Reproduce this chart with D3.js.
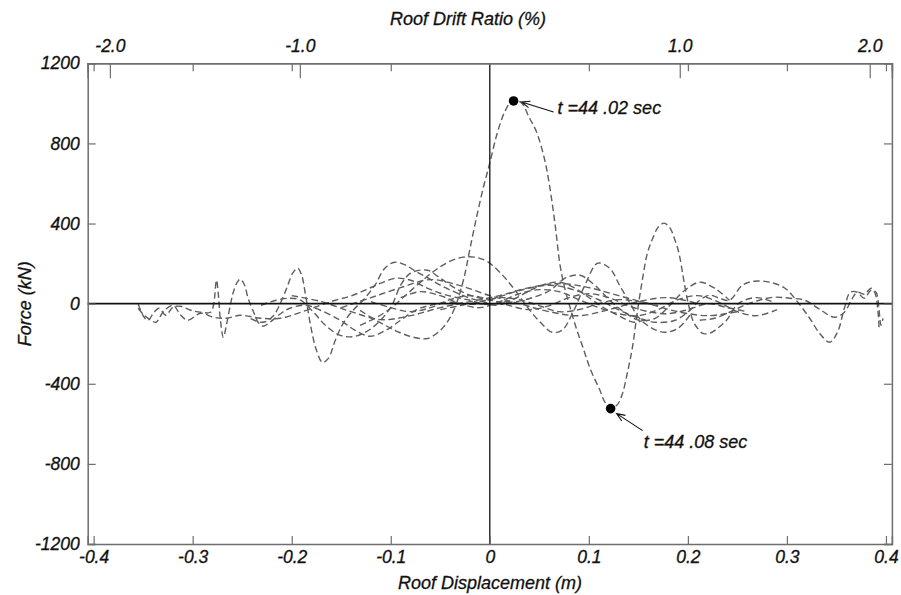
<!DOCTYPE html>
<html>
<head>
<meta charset="utf-8">
<script src="https://cdn.jsdelivr.net/npm/d3@7/dist/d3.min.js"></script>
<style>
  html, body { margin: 0; padding: 0; background: #fff; }
  text { font-family: "Liberation Sans", Arial, sans-serif; font-style: italic; fill: #111; stroke: #111; stroke-width: 0.3px; }
</style>
</head>
<body>
<svg id="chart" width="901" height="595"></svg>
<script>
// ---------------- DATA (roof displacement m, force kN) ----------------
const xTicks = [-0.4, -0.3, -0.2, -0.1, 0, 0.1, 0.2, 0.3, 0.4];
const xTickLabels = ["-0.4", "-0.3", "-0.2", "-0.1", "0", "0.1", "0.2", "0.3", "0.4"];
const yTicks = [-1200, -800, -400, 0, 400, 800, 1200];
const yTickLabels = ["-1200", "-800", "-400", "0", "400", "800", "1200"];
const driftTicks = [-2, -1, 1, 2];
const driftTickLabels = ["-2.0", "-1.0", "1.0", "2.0"];
const metersPerPercentDrift = 0.1918;

const s1 = [[-0.131,-34],[-0.111,-94],[-0.091,-144],[-0.076,-169],[-0.063,-174],[-0.050,-134],[-0.040,-69],[-0.033,10],[-0.026,130],[-0.020,275],[-0.013,440],[-0.006,590],[0.000,702],[0.007,842],[0.015,957],[0.023,1015],[0.032,1002],[0.040,927],[0.047,860],[0.055,727],[0.060,600],[0.066,392],[0.071,190],[0.076,70],[0.081,-18],[0.087,-118],[0.094,-218],[0.102,-333],[0.111,-430],[0.116,-490],[0.122,-524],[0.129,-503],[0.134,-448],[0.139,-343],[0.144,-218],[0.149,-40],[0.154,117],[0.159,250],[0.164,320],[0.170,382],[0.176,402],[0.182,377],[0.187,317],[0.191,252],[0.195,142],[0.199,32],[0.205,-83],[0.209,-118],[0.215,-148],[0.222,-148],[0.230,-123],[0.239,-83],[0.249,-8],[0.257,17],[0.270,30],[0.285,10]];
const s2 = [[-0.2415,-75],[-0.229,-93],[-0.219,-63],[-0.211,7],[-0.204,92],[-0.199,152],[-0.194,177],[-0.190,142],[-0.186,42],[-0.181,-108],[-0.175,-233],[-0.169,-293],[-0.163,-273],[-0.156,-183],[-0.148,-98],[-0.138,-33],[-0.128,17],[-0.116,92],[-0.106,177],[-0.096,207],[-0.085,192],[-0.075,162],[-0.062,127],[-0.050,92],[-0.035,57],[-0.020,27],[-0.005,7],[0.005,-8],[0.015,2]];
const s3 = [[-0.131,-108],[-0.116,-73],[-0.100,-23],[-0.085,42],[-0.070,107],[-0.055,167],[-0.040,212],[-0.027,232],[-0.015,232],[-0.003,212],[0.010,157],[0.024,77],[0.038,-18],[0.051,-93],[0.063,-143],[0.073,-133],[0.084,-43],[0.096,92],[0.109,202],[0.121,177],[0.131,92],[0.141,7],[0.151,-73],[0.164,-123],[0.177,-143],[0.190,-123],[0.202,-58]];
const s4 = [[0.000,17],[0.031,67],[0.061,92],[0.086,67],[0.111,17],[0.131,-33],[0.151,-73],[0.167,-93],[0.187,-83],[0.202,-33],[0.212,17],[0.222,42],[0.232,27],[0.242,17],[0.255,92],[0.267,112],[0.283,107],[0.298,77],[0.311,7],[0.323,-73],[0.333,-148],[0.343,-193],[0.351,-143],[0.358,-23],[0.364,57],[0.371,57],[0.378,27],[0.385,67],[0.390,57],[0.393,-33],[0.395,-108],[0.397,-73]];
const s5 = [[0.212,-83],[0.227,-73],[0.242,-43],[0.257,-8],[0.272,17],[0.287,32],[0.303,27],[0.318,17],[0.333,-28],[0.348,-68],[0.358,-43],[0.365,17],[0.371,57],[0.378,47],[0.385,77],[0.389,52],[0.392,-43],[0.393,-118]];
const s6 = [[-0.355,-3],[-0.349,-68],[-0.345,-83],[-0.339,-43],[-0.334,-23],[-0.327,-58],[-0.320,-18],[-0.312,-13],[-0.302,-33],[-0.292,-43],[-0.282,-43],[-0.279,-8],[-0.276,117],[-0.274,42],[-0.272,-83],[-0.269,-168],[-0.266,-108],[-0.262,-8],[-0.259,57],[-0.255,107],[-0.252,122],[-0.248,97],[-0.244,27],[-0.238,-48],[-0.234,-93],[-0.229,-113],[-0.222,-93],[-0.212,-53],[-0.202,-23],[-0.186,-8],[-0.171,-33],[-0.151,-83],[-0.136,-133],[-0.121,-163],[-0.105,-133],[-0.090,-83],[-0.075,-33],[-0.060,-8],[-0.040,7],[-0.020,-3],[0.000,2]];
const s7 = [[-0.355,-23],[-0.349,-58],[-0.342,-83],[-0.337,-93],[-0.330,-43],[-0.320,-8],[-0.312,-58],[-0.305,-83],[-0.292,-48],[-0.279,-68],[-0.266,-73],[-0.252,-58],[-0.231,-73],[-0.211,-73],[-0.191,-43],[-0.171,-8],[-0.156,17],[-0.141,37],[-0.126,67],[-0.110,102],[-0.095,127],[-0.080,117],[-0.065,82],[-0.050,52],[-0.035,32],[-0.020,17],[-0.005,-3],[0.010,2],[0.026,27],[0.041,67],[0.056,97],[0.071,107],[0.086,77],[0.101,27],[0.116,-23],[0.131,-63],[0.146,-93],[0.160,-73]];
const s8 = [[-0.231,-8],[-0.216,17],[-0.201,27],[-0.191,17],[-0.178,-43],[-0.166,-108],[-0.151,-158],[-0.136,-163],[-0.118,-118],[-0.100,-18],[-0.090,92],[-0.080,152],[-0.063,167],[-0.050,127],[-0.035,77],[-0.020,42],[0.000,17],[0.020,7],[0.041,27],[0.061,67],[0.076,127],[0.091,142],[0.106,92],[0.121,17],[0.136,-43],[0.151,-83],[0.167,-73],[0.182,-8],[0.197,67],[0.212,107],[0.227,77],[0.242,17]];
const s9 = [[-0.12,10],[-0.10,-20],[-0.08,-40],[-0.06,-20],[-0.04,20],[-0.02,40],[0.00,20],[0.02,-10],[0.04,-30],[0.06,-10],[0.08,30],[0.10,50],[0.12,30],[0.14,-10],[0.16,-40],[0.18,-50],[0.20,-30],[0.22,0],[0.24,-20],[0.26,-40]];
const s10 = [[-0.09,30],[-0.07,60],[-0.05,40],[-0.03,0],[-0.01,-20],[0.01,10],[0.03,50],[0.05,70],[0.07,60],[0.09,20],[0.11,-20],[0.13,-50],[0.15,-60],[0.17,-30],[0.19,20],[0.21,40],[0.23,10],[0.25,-40],[0.27,-60],[0.29,-30]];
const s11 = [[-0.05,-30],[-0.03,-10],[-0.01,10],[0.01,30],[0.03,20],[0.05,-10],[0.07,-40],[0.09,-30],[0.11,0],[0.13,20],[0.15,10],[0.17,-10]];
const s12 = [[-0.15,-20],[-0.12,30],[-0.09,80],[-0.06,120],[-0.03,90],[0.00,40],[0.03,0],[0.06,-40],[0.09,-60],[0.12,-30],[0.15,10],[0.18,30],[0.21,0]];
const s13 = [[-0.20,40],[-0.17,10],[-0.14,-40],[-0.11,-80],[-0.08,-60],[-0.05,-20],[-0.02,10],[0.01,40],[0.04,80],[0.07,100],[0.10,80],[0.13,40],[0.16,0],[0.19,-40],[0.22,-60],[0.25,-40]];
const seriesList = [s1, s2, s3, s4, s5, s6, s7, s8, s9, s10, s11, s12, s13];

const markers = [[0.024, 1012], [0.122, -524]];
const markerLabels = ["t =44 .02 sec", "t =44 .08 sec"];

// ---------------- DRAWING ----------------
const svg = d3.select("#chart");
const plotLeft = 87.7, plotRight = 891.9, plotTop = 63.3, plotBottom = 544;

const x = d3.scaleLinear().domain([-0.406, 0.406]).range([plotLeft, plotRight]);
const y = d3.scaleLinear().domain([-1200, 1200]).range([plotBottom, plotTop]);
const drift = d3.scaleLinear()
  .domain([-0.406 / metersPerPercentDrift, 0.406 / metersPerPercentDrift])
  .range([plotLeft, plotRight]);

const frameColor = "#6e6e6e";

// curves
const line = d3.line().x(d => x(d[0])).y(d => y(d[1])).curve(d3.curveCatmullRom.alpha(0.5));
svg.append("g").selectAll("path").data(seriesList).join("path")
  .attr("d", line)
  .attr("fill", "none")
  .attr("stroke", "#5e5e5e")
  .attr("stroke-width", 1.4)
  .attr("stroke-dasharray", "6.5,3.5");

// zero lines
svg.append("line").attr("x1", plotLeft).attr("x2", plotRight).attr("y1", y(0)).attr("y2", y(0))
  .attr("stroke", "#111").attr("stroke-width", 1.6);
svg.append("line").attr("x1", x(0)).attr("x2", x(0)).attr("y1", plotTop).attr("y2", plotBottom)
  .attr("stroke", "#111").attr("stroke-width", 1.3);

// axes via d3 axis generators (ticks inward)
const fmtX = (d) => xTickLabels[xTicks.indexOf(d)];
const fmtY = (d) => yTickLabels[yTicks.indexOf(d)];

const gBottom = svg.append("g").attr("transform", `translate(0,${plotBottom})`)
  .call(d3.axisBottom(x).tickValues(xTicks).tickSize(-8).tickPadding(7).tickFormat(fmtX));
const gTopSmall = svg.append("g").attr("transform", `translate(0,${plotTop})`)
  .call(d3.axisTop(x).tickValues(xTicks.filter(v => v !== 0)).tickSize(-8).tickFormat(""));
const gTop = svg.append("g").attr("transform", `translate(0,${plotTop})`)
  .call(d3.axisTop(drift).tickValues(driftTicks).tickSize(-15).tickPadding(11)
    .tickFormat((d) => driftTickLabels[driftTicks.indexOf(d)]));
const gLeft = svg.append("g").attr("transform", `translate(${plotLeft},0)`)
  .call(d3.axisLeft(y).tickValues(yTicks).tickSize(-8).tickPadding(8).tickFormat(fmtY));
const gRight = svg.append("g").attr("transform", `translate(${plotRight},0)`)
  .call(d3.axisRight(y).tickValues(yTicks).tickSize(-8).tickFormat(""));

[gBottom, gTopSmall, gTop, gLeft, gRight].forEach(g => {
  g.select(".domain").attr("stroke", frameColor).attr("stroke-width", 1.5);
  g.selectAll(".tick line").attr("stroke", frameColor).attr("stroke-width", 1.2);
  g.selectAll(".tick text").attr("fill", "#111").attr("stroke", "#111").attr("stroke-width", 0.3)
    .style("font-family", '"Liberation Sans", Arial, sans-serif')
    .style("font-style", "italic").style("font-size", "17.5px");
});

// axis titles
svg.append("text").attr("x", 468).attr("y", 25).attr("text-anchor", "middle")
  .style("font-size", "18px").text("Roof Drift Ratio (%)");
svg.append("text").attr("x", 490).attr("y", 589).attr("text-anchor", "middle")
  .style("font-size", "18px").text("Roof Displacement (m)");
svg.append("text").attr("transform", `translate(31,${(plotTop + plotBottom) / 2}) rotate(-90)`)
  .attr("text-anchor", "middle").style("font-size", "18px").text("Force (kN)");

// markers
svg.append("g").selectAll("circle").data(markers).join("circle")
  .attr("cx", d => x(d[0])).attr("cy", d => y(d[1])).attr("r", 4.8).attr("fill", "#000");

// annotations with arrows
function arrow(x1, y1, x2, y2) {
  const ang = Math.atan2(y2 - y1, x2 - x1);
  const L = 9, w = 0.38;
  const p = d3.path();
  p.moveTo(x1, y1); p.lineTo(x2, y2);
  p.moveTo(x2 - L * Math.cos(ang - w), y2 - L * Math.sin(ang - w));
  p.lineTo(x2, y2);
  p.lineTo(x2 - L * Math.cos(ang + w), y2 - L * Math.sin(ang + w));
  svg.append("path").attr("d", p.toString()).attr("fill", "none")
    .attr("stroke", "#111").attr("stroke-width", 1.1);
}
const m1x = x(markers[0][0]), m1y = y(markers[0][1]);
arrow(m1x + 40, m1y + 11, m1x + 8, m1y + 1);
svg.append("text").attr("x", m1x + 44).attr("y", m1y + 13).style("font-size", "18px").text(markerLabels[0]);

const m2x = x(markers[1][0]), m2y = y(markers[1][1]);
arrow(m2x + 32, m2y + 22, m2x + 6, m2y + 5);
svg.append("text").attr("x", m2x + 33).attr("y", m2y + 39).style("font-size", "18px").text(markerLabels[1]);
</script>
</body>
</html>
